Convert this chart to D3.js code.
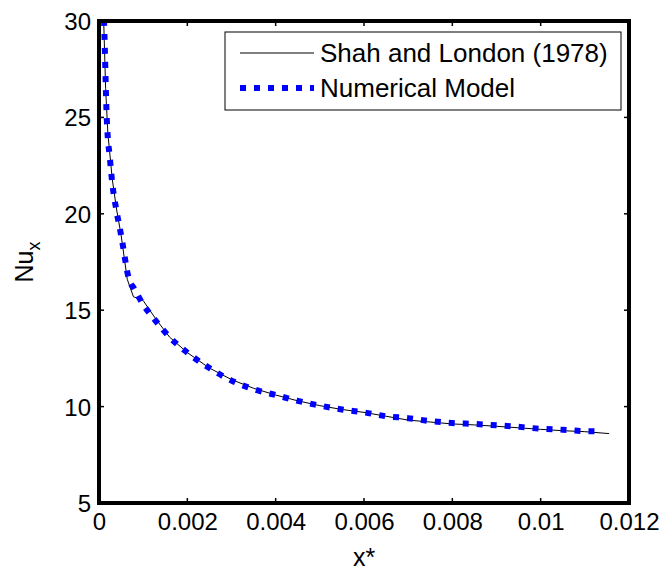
<!DOCTYPE html>
<html>
<head>
<meta charset="utf-8">
<title>Nu_x vs x*</title>
<script src="https://d3js.org/d3.v7.min.js"></script>
<style>
  body { margin: 0; background: #fff; }
  text { font-family: "Liberation Sans", Arial, sans-serif; }
</style>
</head>
<body>
<div id="chart"></div>
<script>
// Shah and London (1978) correlation
var shahX  = [0.00005, 0.0001, 0.00015, 0.0002, 0.0003, 0.0004, 0.0005, 0.00064, 0.00078, 0.001, 0.0013, 0.0016, 0.002, 0.0025, 0.003, 0.0035, 0.004, 0.0045, 0.005, 0.0055, 0.006, 0.0065, 0.007, 0.0075, 0.008, 0.0085, 0.009, 0.0095, 0.01, 0.0105, 0.011, 0.01155];
var shahNu = [33, 30.5, 26.5, 24.2, 21.8, 20.2, 18.9, 16.6, 15.7, 15.5, 14.5, 13.6, 12.8, 12.0, 11.4, 10.95, 10.6, 10.3, 10.05, 9.85, 9.7, 9.5, 9.3, 9.2, 9.1, 9.05, 8.98, 8.9, 8.82, 8.75, 8.7, 8.6];

// numerical model
var numX  = [0.00009, 0.000114, 0.000175, 0.00025, 0.0003, 0.0004, 0.0005, 0.00068, 0.0008, 0.001, 0.0013, 0.0016, 0.002, 0.0025, 0.003, 0.0035, 0.004, 0.0045, 0.005, 0.0055, 0.006, 0.0065, 0.007, 0.0075, 0.008, 0.0085, 0.009, 0.0095, 0.01, 0.0105, 0.011, 0.0113];
var numNu = [31.5, 30, 25, 22.8, 21.6, 20.1, 18.9, 16.6, 16.1, 15.3, 14.4, 13.6, 12.8, 12.0, 11.35, 10.9, 10.6, 10.3, 10.05, 9.85, 9.7, 9.5, 9.4, 9.25, 9.15, 9.1, 9.03, 8.95, 8.85, 8.8, 8.73, 8.72];

var xTicks = [0, 0.002, 0.004, 0.006, 0.008, 0.01, 0.012];
var xTickLabels = ["0", "0.002", "0.004", "0.006", "0.008", "0.01", "0.012"];
var yTicks = [5, 10, 15, 20, 25, 30];

var legendLabels = ["Shah and London (1978)", "Numerical Model"];

var width = 663, height = 572;
var margin = {top: 21, right: 34, bottom: 69, left: 99};
var w = width - margin.left - margin.right,
    h = height - margin.top - margin.bottom;

var svg = d3.select("#chart").append("svg")
    .attr("width", width)
    .attr("height", height);

var g = svg.append("g")
    .attr("transform", "translate(" + margin.left + "," + margin.top + ")");

var x = d3.scaleLinear().domain([0, 0.012]).range([0, w]);
var y = d3.scaleLinear().domain([5, 30]).range([h, 0]);

g.append("clipPath").attr("id", "clip")
  .append("rect").attr("width", w).attr("height", h);

var line = d3.line()
    .x(function(d) { return x(d[0]); })
    .y(function(d) { return y(d[1]); })
    .curve(d3.curveMonotoneX);

var plot = g.append("g").attr("clip-path", "url(#clip)");

plot.append("path")
    .datum(shahX.map(function(v, i) { return [v, shahNu[i]]; }))
    .attr("d", d3.line().x(function(d) { return x(d[0]); }).y(function(d) { return y(d[1]); }))
    .attr("fill", "none")
    .attr("stroke", "#000")
    .attr("stroke-width", 1);

plot.append("path")
    .datum(numX.map(function(v, i) { return [v, numNu[i]]; }))
    .attr("d", line)
    .attr("fill", "none")
    .attr("stroke", "#0000ff")
    .attr("stroke-width", 6)
    .attr("stroke-dasharray", "6,8");

// axes (MATLAB style, ticks inside)
var xAxis = g.append("g").attr("transform", "translate(0," + h + ")")
    .call(d3.axisBottom(x).tickValues(xTicks).tickSize(0).tickPadding(10)
        .tickFormat(function(d, i) { return xTickLabels[i]; }));
var yAxis = g.append("g")
    .call(d3.axisLeft(y).tickValues(yTicks).tickSize(0).tickPadding(8));

[xAxis, yAxis].forEach(function(a) {
  a.select(".domain").remove();
  a.selectAll("text").style("font-size", "24px").attr("fill", "#000")
    .style("font-family", "'Liberation Sans', Arial, sans-serif");
});
yAxis.selectAll("text").attr("dy", "0.35em");

// inward tick marks on all four sides
xTicks.forEach(function(t) {
  g.append("line").attr("x1", x(t)).attr("x2", x(t)).attr("y1", h).attr("y2", h - 5)
    .attr("stroke", "#000").attr("stroke-width", 1.5);
  g.append("line").attr("x1", x(t)).attr("x2", x(t)).attr("y1", 0).attr("y2", 5)
    .attr("stroke", "#000").attr("stroke-width", 1.5);
});
yTicks.forEach(function(t) {
  g.append("line").attr("x1", 0).attr("x2", 5).attr("y1", y(t)).attr("y2", y(t))
    .attr("stroke", "#000").attr("stroke-width", 1.5);
  g.append("line").attr("x1", w).attr("x2", w - 5).attr("y1", y(t)).attr("y2", y(t))
    .attr("stroke", "#000").attr("stroke-width", 1.5);
});

// box
g.append("rect")
    .attr("width", w).attr("height", h)
    .attr("fill", "none")
    .attr("stroke", "#000")
    .attr("stroke-width", 4);

// axis labels
svg.append("text")
    .attr("x", margin.left + w / 2)
    .attr("y", 566)
    .attr("text-anchor", "middle")
    .style("font-size", "25px")
    .text("x*");

var yl = svg.append("text")
    .attr("transform", "translate(33,262) rotate(-90)")
    .attr("text-anchor", "middle")
    .style("font-size", "25px");
yl.append("tspan").text("Nu");
yl.append("tspan").attr("dy", 7).style("font-size", "18px").text("x");

// legend
var lg = svg.append("g").attr("transform", "translate(225,32)");
lg.append("rect")
    .attr("width", 396).attr("height", 78)
    .attr("fill", "#fff")
    .attr("stroke", "#000")
    .attr("stroke-width", 1);
lg.append("line")
    .attr("x1", 15).attr("x2", 89).attr("y1", 21).attr("y2", 21)
    .attr("stroke", "#000").attr("stroke-width", 1);
lg.append("line")
    .attr("x1", 15).attr("x2", 89).attr("y1", 56).attr("y2", 56)
    .attr("stroke", "#0000ff").attr("stroke-width", 6)
    .attr("stroke-dasharray", "6,8");
legendLabels.forEach(function(lbl, i) {
  lg.append("text")
    .attr("x", 95)
    .attr("y", 21 + i * 35)
    .attr("dy", "0.35em")
    .style("font-size", "26px")
    .text(lbl);
});
</script>
</body>
</html>
